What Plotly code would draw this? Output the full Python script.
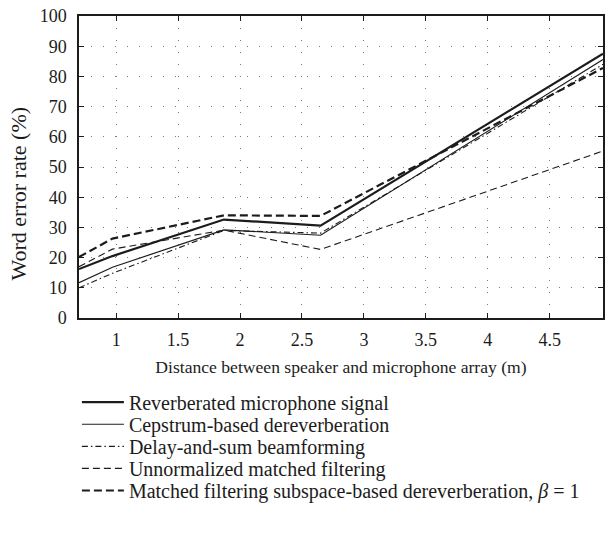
import plotly.graph_objects as go

# Word error rate versus speaker-to-array distance for five front-end methods
distance_m = [0.7, 0.97, 1.87, 2.65, 4.93]

reverberated = [16.2, 20.5, 32.6, 30.6, 87.5]
cepstrum = [11.7, 16.8, 29.2, 27.4, 85.6]
delay_and_sum = [10.0, 14.8, 29.0, 28.1, 84.0]
unnormalized_mf = [17.0, 22.8, 29.1, 22.7, 55.3]
mf_subspace = [20.2, 26.3, 34.0, 33.8, 82.8]

series_names = [
    "Reverberated microphone signal",
    "Cepstrum-based dereverberation",
    "Delay-and-sum beamforming",
    "Unnormalized matched filtering",
    "Matched filtering subspace-based dereverberation, <i>β</i> = 1",
]

x_ticks = [1, 1.5, 2, 2.5, 3, 3.5, 4, 4.5]
y_ticks = list(range(0, 101, 10))

INK = "#1c1c1c"
FONT = "Liberation Serif"

styles = [
    (2.2, "solid"),
    (1.2, "solid"),
    (1.1, "6px,3px,1.5px,3px"),
    (1.1, "7px,4px"),
    (2.2, "8px,4px"),
]
values = [reverberated, cepstrum, delay_and_sum, unnormalized_mf, mf_subspace]

# one legend per entry so the rows can sit closer than the default spacing
legend_rows_px = [403, 425.3, 447.6, 469.9, 492.2]
PLOT_BOTTOM_PX, PLOT_H_PX = 318, 305

fig = go.Figure()
legend_layout = {}
for i, (name, vals, (w, dash)) in enumerate(zip(series_names, values, styles)):
    key = "legend" if i == 0 else f"legend{i + 1}"
    fig.add_trace(go.Scatter(
        x=distance_m, y=vals, name=name, mode="lines",
        line=dict(color=INK, width=w, dash=dash), legend=key,
    ))
    legend_layout[key] = dict(
        x=-0.004, xanchor="left",
        y=(PLOT_BOTTOM_PX - legend_rows_px[i]) / PLOT_H_PX, yanchor="middle",
        font=dict(family=FONT, size=20, color=INK),
        bgcolor="rgba(0,0,0,0)", itemwidth=42,
    )

axis_common = dict(
    showline=True, linecolor=INK, linewidth=1.5, mirror="ticks",
    ticks="inside", ticklen=5, tickwidth=1.2, tickcolor=INK,
    showgrid=True, gridcolor="#7a7a7a", gridwidth=1, griddash="1px,11px",
    zeroline=False, tickfont=dict(family=FONT, size=18, color=INK),
)

fig.update_xaxes(
    range=[0.7, 4.93], tickvals=x_ticks, ticktext=[str(t) for t in x_ticks],
    ticklabelstandoff=5,
    title=dict(text="Distance between speaker and microphone array (m)",
               font=dict(family=FONT, size=17.6, color=INK), standoff=11),
    **axis_common,
)
fig.update_yaxes(range=[0, 100], tickvals=y_ticks, ticklabelstandoff=7, **axis_common)

fig.add_annotation(
    text="Word error rate (%)", xref="paper", yref="paper",
    x=(18 - 79) / 526, y=(PLOT_BOTTOM_PX - 192) / PLOT_H_PX,
    xanchor="center", yanchor="middle", textangle=-90, showarrow=False,
    font=dict(family=FONT, size=22, color=INK),
)

fig.update_layout(
    width=611, height=538,
    margin=dict(l=79, r=6, t=13, b=220),
    plot_bgcolor="white", paper_bgcolor="white",
    font=dict(family=FONT, color=INK),
    showlegend=True,
    **legend_layout,
)

fig.write_html("out.html")
